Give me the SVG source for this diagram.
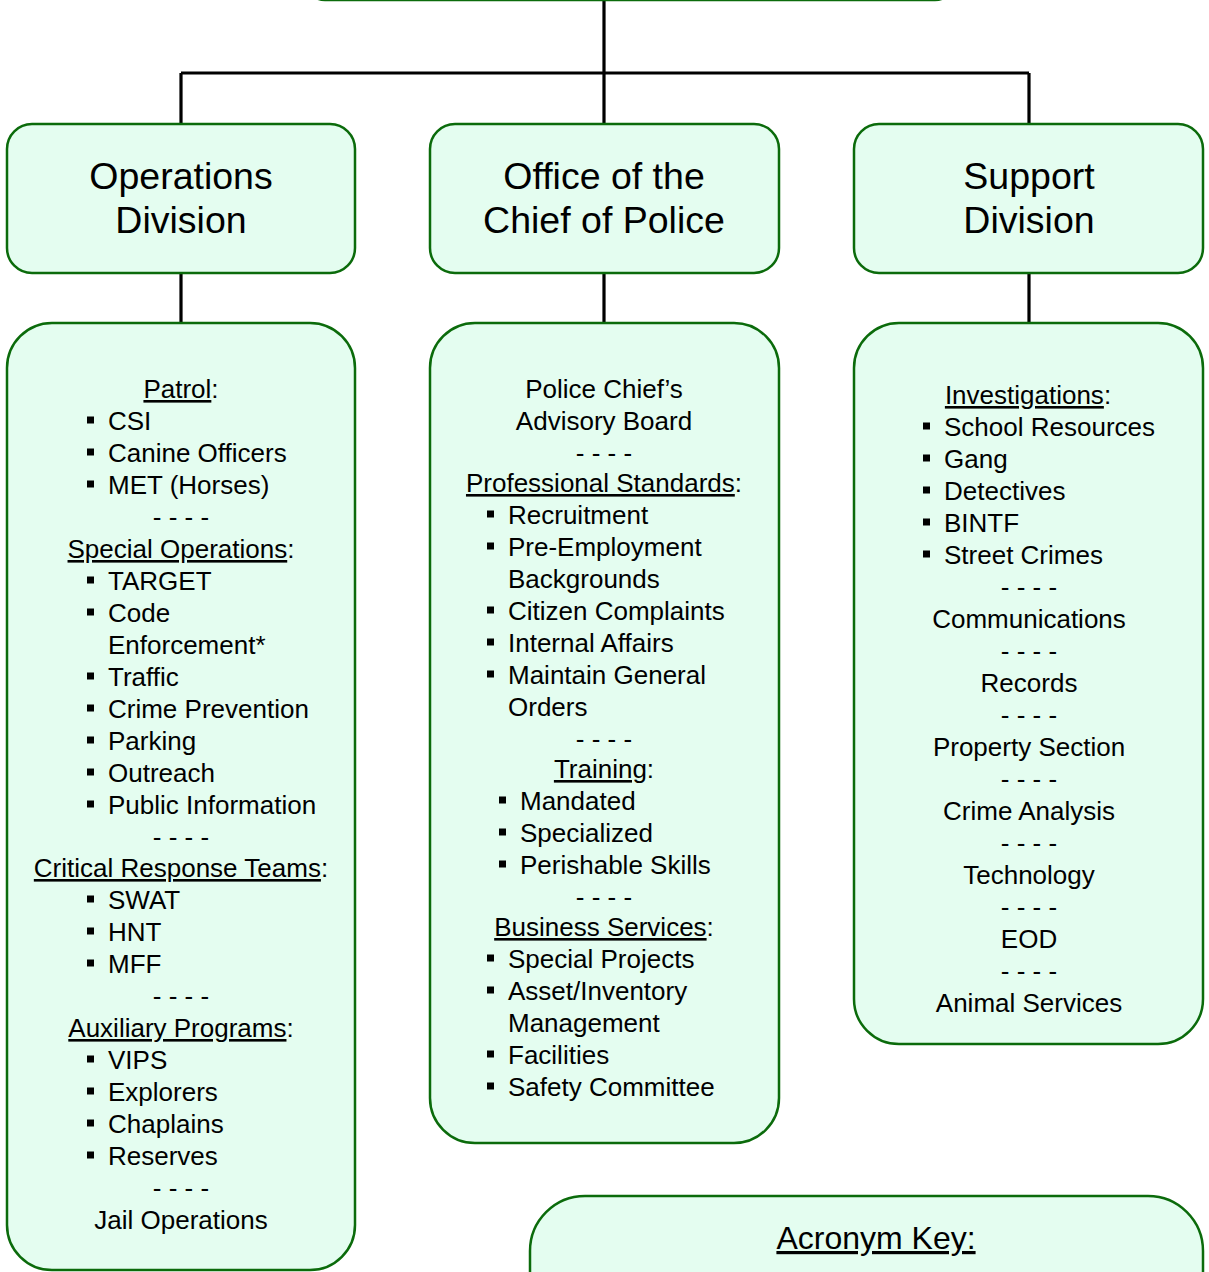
<svg xmlns="http://www.w3.org/2000/svg" width="1209" height="1272" viewBox="0 0 1209 1272">
<style>
.box{fill:#e4fdf0;stroke:#0b6b0b;stroke-width:2.5}
.ln{fill:none;stroke:#000;stroke-width:3.2}
.t{font-family:"Liberation Sans",Arial,sans-serif;font-size:26px;fill:#000}
.c{text-anchor:middle}
.h{font-size:37.5px}
.k{font-size:32px}
.u{text-decoration:underline}
.b{fill:#000}
</style>
<defs>
<rect id="bl" width="7" height="7" class="b"/>
</defs>
<rect width="1209" height="1272" fill="#fff"/>
<g id="connectors">
<path class="ln" d="M604,0 V73 M181,73 H1029 M181,73 V124 M604,73 V124 M1029,73 V124 M181,273 V323 M604,273 V323 M1029,273 V323"/>
</g>
<g id="root"><rect class="box" x="305" y="-60" width="650" height="60" rx="20"/></g>
<g id="ops-head">
<rect class="box" x="7" y="124" width="348" height="149" rx="25"/>
<text class="t h c" x="181" y="189">Operations</text>
<text class="t h c" x="181" y="233">Division</text>
</g>
<g id="chief-head">
<rect class="box" x="430" y="124" width="349" height="149" rx="25"/>
<text class="t h c" x="604" y="189">Office of the</text>
<text class="t h c" x="604" y="233">Chief of Police</text>
</g>
<g id="support-head">
<rect class="box" x="854" y="124" width="349" height="149" rx="25"/>
<text class="t h c" x="1029" y="189">Support</text>
<text class="t h c" x="1029" y="233">Division</text>
</g>
<g id="ops-body">
<rect class="box" x="7" y="323" width="348" height="947" rx="45"/>
<text class="t c" x="181" y="398"><tspan class="u">Patrol</tspan>:</text>
<use href="#bl" x="87" y="416.5"/><text class="t" x="108" y="430">CSI</text>
<use href="#bl" x="87" y="448.5"/><text class="t" x="108" y="462">Canine Officers</text>
<use href="#bl" x="87" y="480.5"/><text class="t" x="108" y="494">MET (Horses)</text>
<text class="t c" x="181" y="526">- - - -</text>
<text class="t c" x="181" y="558"><tspan class="u">Special Operations</tspan>:</text>
<use href="#bl" x="87" y="576.5"/><text class="t" x="108" y="590">TARGET</text>
<use href="#bl" x="87" y="608.5"/><text class="t" x="108" y="622">Code</text>
<text class="t" x="108" y="654">Enforcement*</text>
<use href="#bl" x="87" y="672.5"/><text class="t" x="108" y="686">Traffic</text>
<use href="#bl" x="87" y="704.5"/><text class="t" x="108" y="718">Crime Prevention</text>
<use href="#bl" x="87" y="736.5"/><text class="t" x="108" y="750">Parking</text>
<use href="#bl" x="87" y="768.5"/><text class="t" x="108" y="782">Outreach</text>
<use href="#bl" x="87" y="800.5"/><text class="t" x="108" y="814">Public Information</text>
<text class="t c" x="181" y="846">- - - -</text>
<text class="t c" x="181" y="877"><tspan class="u">Critical Response Teams</tspan>:</text>
<use href="#bl" x="87" y="895.5"/><text class="t" x="108" y="909">SWAT</text>
<use href="#bl" x="87" y="927.5"/><text class="t" x="108" y="941">HNT</text>
<use href="#bl" x="87" y="959.5"/><text class="t" x="108" y="973">MFF</text>
<text class="t c" x="181" y="1005">- - - -</text>
<text class="t c" x="181" y="1037"><tspan class="u">Auxiliary Programs</tspan>:</text>
<use href="#bl" x="87" y="1055.5"/><text class="t" x="108" y="1069">VIPS</text>
<use href="#bl" x="87" y="1087.5"/><text class="t" x="108" y="1101">Explorers</text>
<use href="#bl" x="87" y="1119.5"/><text class="t" x="108" y="1133">Chaplains</text>
<use href="#bl" x="87" y="1151.5"/><text class="t" x="108" y="1165">Reserves</text>
<text class="t c" x="181" y="1197">- - - -</text>
<text class="t c" x="181" y="1229">Jail Operations</text>
</g>
<g id="chief-body">
<rect class="box" x="430" y="323" width="349" height="820" rx="45"/>
<text class="t c" x="604" y="398">Police Chief’s</text>
<text class="t c" x="604" y="430">Advisory Board</text>
<text class="t c" x="604" y="462">- - - -</text>
<text class="t c" x="604" y="492"><tspan class="u">Professional Standards</tspan>:</text>
<use href="#bl" x="487" y="510.5"/><text class="t" x="508" y="524">Recruitment</text>
<use href="#bl" x="487" y="542.5"/><text class="t" x="508" y="556">Pre-Employment</text>
<text class="t" x="508" y="588">Backgrounds</text>
<use href="#bl" x="487" y="606.5"/><text class="t" x="508" y="620">Citizen Complaints</text>
<use href="#bl" x="487" y="638.5"/><text class="t" x="508" y="652">Internal Affairs</text>
<use href="#bl" x="487" y="670.5"/><text class="t" x="508" y="684">Maintain General</text>
<text class="t" x="508" y="716">Orders</text>
<text class="t c" x="604" y="748">- - - -</text>
<text class="t c" x="604" y="778"><tspan class="u">Training</tspan>:</text>
<use href="#bl" x="499" y="796.5"/><text class="t" x="520" y="810">Mandated</text>
<use href="#bl" x="499" y="828.5"/><text class="t" x="520" y="842">Specialized</text>
<use href="#bl" x="499" y="860.5"/><text class="t" x="520" y="874">Perishable Skills</text>
<text class="t c" x="604" y="906">- - - -</text>
<text class="t c" x="604" y="936"><tspan class="u">Business Services</tspan>:</text>
<use href="#bl" x="487" y="954.5"/><text class="t" x="508" y="968">Special Projects</text>
<use href="#bl" x="487" y="986.5"/><text class="t" x="508" y="1000">Asset/Inventory</text>
<text class="t" x="508" y="1032">Management</text>
<use href="#bl" x="487" y="1050.5"/><text class="t" x="508" y="1064">Facilities</text>
<use href="#bl" x="487" y="1082.5"/><text class="t" x="508" y="1096">Safety Committee</text>
</g>
<g id="support-body">
<rect class="box" x="854" y="323" width="349" height="721" rx="45"/>
<text class="t c" x="1028" y="404"><tspan class="u">Investigations</tspan>:</text>
<use href="#bl" x="923" y="422.5"/><text class="t" x="944" y="436">School Resources</text>
<use href="#bl" x="923" y="454.5"/><text class="t" x="944" y="468">Gang</text>
<use href="#bl" x="923" y="486.5"/><text class="t" x="944" y="500">Detectives</text>
<use href="#bl" x="923" y="518.5"/><text class="t" x="944" y="532">BINTF</text>
<use href="#bl" x="923" y="550.5"/><text class="t" x="944" y="564">Street Crimes</text>
<text class="t c" x="1029" y="596">- - - -</text>
<text class="t c" x="1029" y="628">Communications</text>
<text class="t c" x="1029" y="660">- - - -</text>
<text class="t c" x="1029" y="692">Records</text>
<text class="t c" x="1029" y="724">- - - -</text>
<text class="t c" x="1029" y="756">Property Section</text>
<text class="t c" x="1029" y="788">- - - -</text>
<text class="t c" x="1029" y="820">Crime Analysis</text>
<text class="t c" x="1029" y="852">- - - -</text>
<text class="t c" x="1029" y="884">Technology</text>
<text class="t c" x="1029" y="916">- - - -</text>
<text class="t c" x="1029" y="948">EOD</text>
<text class="t c" x="1029" y="980">- - - -</text>
<text class="t c" x="1029" y="1012">Animal Services</text>
</g>
<g id="acronym-key">
<rect class="box" x="530" y="1196" width="673" height="160" rx="55"/>
<text class="t k c u" x="876" y="1249">Acronym Key:</text>
</g>
</svg>
